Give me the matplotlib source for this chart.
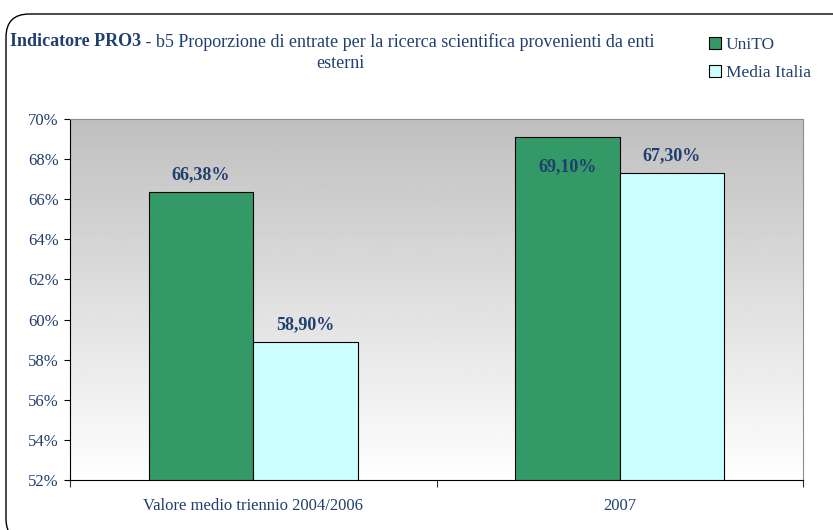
import numpy as np
import matplotlib
matplotlib.use("Agg")
import matplotlib.pyplot as plt
from matplotlib.patches import FancyBboxPatch, Patch

# --- dati ---
categorie = ["Valore medio triennio 2004/2006", "2007"]
unito = [66.38, 69.10]
media_italia = [58.90, 67.30]
serie = ["UniTO", "Media Italia"]
tick_y = [52, 54, 56, 58, 60, 62, 64, 66, 68, 70]

NAVY = "#1f3f6e"
VERDE = "#339966"
CIANO = "#ccffff"

plt.rcParams["font.family"] = ["Liberation Serif", "DejaVu Serif"]

fig = plt.figure(figsize=(8.33, 5.30), dpi=100)

# cornice arrotondata (esce a destra e in basso)
frame = FancyBboxPatch((6 / 833, -12 / 530), 1.1, 1 - 2 / 530,
                       boxstyle="round,pad=0,rounding_size=0.028",
                       transform=fig.transFigure, fc="white", ec="black",
                       lw=1.0, mutation_aspect=833 / 530, zorder=-5)
fig.patches.append(frame)

ax = fig.add_axes([70 / 833, 50 / 530, 733 / 833, 361 / 530])

# sfondo sfumato: bianco in basso, grigio in alto
grad = np.linspace(1.0, 0.75, 256).reshape(-1, 1)
ax.imshow(grad, cmap="gray", vmin=0, vmax=1, aspect="auto", origin="lower",
          extent=[-0.5, 1.5, 52, 70], zorder=0)

x = np.arange(len(categorie))
w = 0.285
b1 = ax.bar(x - w / 2, unito, w, color=VERDE, edgecolor="black", lw=0.8,
            zorder=2)
b2 = ax.bar(x + w / 2, media_italia, w, color=CIANO, edgecolor="black", lw=0.8,
            zorder=2)

ax.set_xlim(-0.5, 1.5)
ax.set_ylim(52, 70)
ax.set_yticks(tick_y)
ax.set_yticklabels([f"{t}%" for t in tick_y])
ax.set_xticks([-0.5, 0.5, 1.5])
ax.set_xticklabels([])
ax.set_xticks(x, minor=True)
ax.set_xticklabels(categorie, minor=True)
ax.tick_params(axis="x", which="minor", length=0, pad=13)
ax.tick_params(axis="x", which="major", length=5, direction="out", color="#333333")
ax.tick_params(axis="y", length=4, direction="out", pad=4)
for lab in ax.get_yticklabels() + ax.get_xticklabels(minor=True):
    lab.set_color(NAVY)
    lab.set_fontsize(12)

for s in ["top", "right"]:
    ax.spines[s].set_color("#8c8c8c")
for s in ["left", "bottom"]:
    ax.spines[s].set_color("black")

# etichette dei valori
for bars, vals in [(b1, unito), (b2, media_italia)]:
    for r, v in zip(bars, vals):
        cx = r.get_x() + r.get_width() / 2
        if v > 69:
            off = -30
        else:
            off = 17
        ax.annotate(f"{v:.2f}%".replace(".", ","), (cx, v),
                    xytext=(0, off * 0.72), textcoords="offset points",
                    ha="center", va="center", fontsize=13, fontweight="bold",
                    color=NAVY, zorder=3)

# titolo
t1 = fig.text(10 / 833, 1 - 42 / 530, "Indicatore PRO3", fontsize=13,
              fontweight="bold", color=NAVY, va="center", ha="left")
fig.canvas.draw()
bb = t1.get_window_extent()
fig.text(bb.x1 / 833, 1 - 42 / 530,
         " - b5 Proporzione di entrate per la ricerca scientifica provenienti da enti",
         fontsize=13, color=NAVY, va="center", ha="left")
fig.text(340 / 833, 1 - 64 / 530, "esterni", fontsize=13, color=NAVY,
         va="center", ha="center")

# legenda
handles = [Patch(fc=VERDE, ec="black", lw=0.8), Patch(fc=CIANO, ec="black", lw=0.8)]
leg = fig.legend(handles, serie, loc="upper left",
                 bbox_to_anchor=(700 / 833, 1 - 28 / 530), frameon=False,
                 fontsize=12.5, handlelength=0.7, handleheight=0.7,
                 handletextpad=0.3, labelspacing=0.7, borderpad=0)
for t in leg.get_texts():
    t.set_color(NAVY)

fig.savefig("out.png", dpi=100)
